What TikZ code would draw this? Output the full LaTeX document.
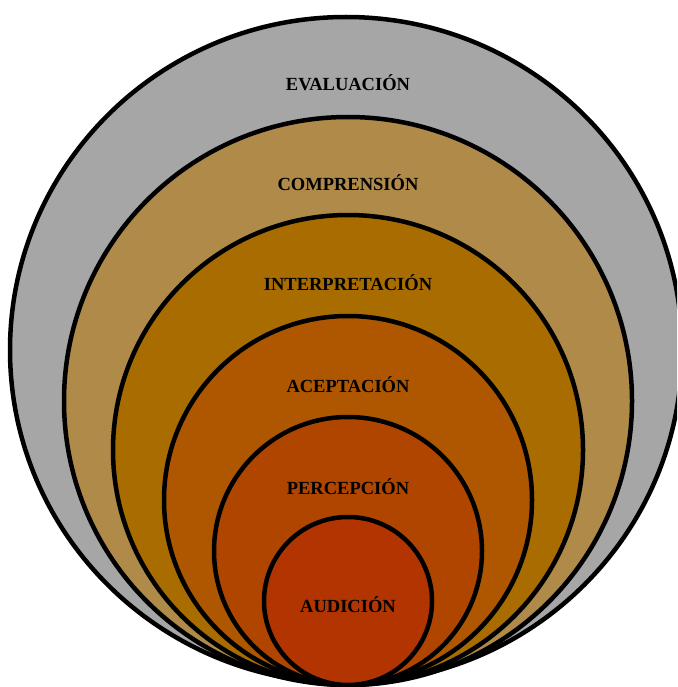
\documentclass[tikz,border=0pt]{standalone}
\usepackage{fontspec}
\setmainfont{Liberation Serif}
\definecolor{cEval}{RGB}{166,166,166}
\definecolor{cComp}{RGB}{175,138,72}
\definecolor{cInt}{RGB}{168,108,0}
\definecolor{cAcep}{RGB}{174,87,0}
\definecolor{cPerc}{RGB}{176,69,0}
\definecolor{cAud}{RGB}{178,52,0}
\begin{document}
\begin{tikzpicture}[x=1pt,y=-1pt,
  ring/.style={draw=black,line width=4.5pt},
  lbl/.style={font=\fontsize{18.5}{20}\selectfont\bfseries,text=black,inner sep=0pt}]
\useasboundingbox (0,0) rectangle (677,687);
\clip (0,0) rectangle (677,687);
\fill[white] (0,0) rectangle (677,687);
\draw[ring,fill=cEval] (346,350) circle [x radius=336, y radius=333];
\draw[ring,fill=cComp] (348,401) circle (284);
\draw[ring,fill=cInt] (348,450) circle (235);
\draw[ring,fill=cAcep] (348,500) circle (184);
\draw[ring,fill=cPerc] (348,551) circle (134);
\draw[ring,fill=cAud] (348,601) circle (84);
\node[lbl] (ev) at (348,83) {EVALUACIÓN};
\node[lbl] (co) at (348,183) {COMPRENSIÓN};
\node[lbl] (in) at (348,283) {INTERPRETACIÓN};
\node[lbl] (ac) at (348,385) {ACEPTACIÓN};
\node[lbl] (pe) at (348,487) {PERCEPCIÓN};
\node[lbl] (au) at (348,605) {AUDICIÓN};
\end{tikzpicture}
\end{document}
